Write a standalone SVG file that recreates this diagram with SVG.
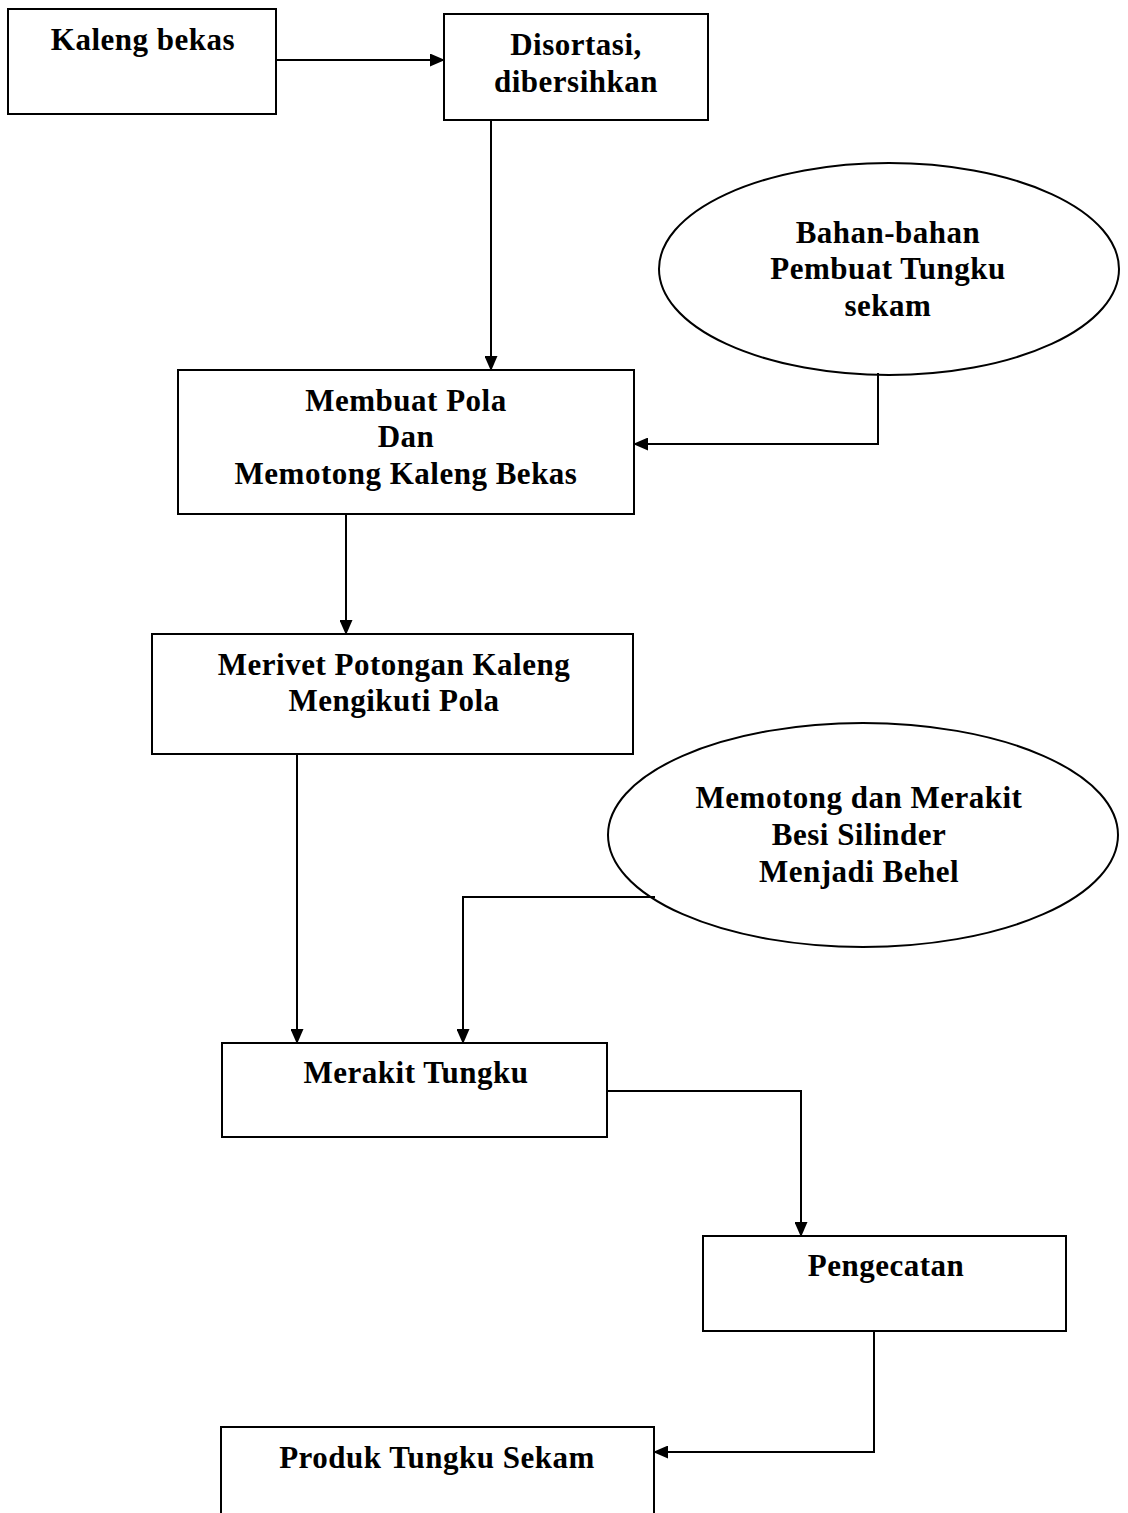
<svg xmlns="http://www.w3.org/2000/svg" width="1128" height="1513" viewBox="0 0 1128 1513">
<defs>
<marker id="ah" markerWidth="15" markerHeight="13" refX="14" refY="6.5" orient="auto" markerUnits="userSpaceOnUse">
<path d="M0,0 L15,6.5 L0,13 z" fill="#000"/>
</marker>
<style>
.box{fill:#fff;stroke:#000;stroke-width:2}
.t{font-family:"Liberation Serif","Times New Roman",serif;font-weight:bold;font-size:31px;letter-spacing:0.5px;text-anchor:middle;fill:#000}
.c{fill:none;stroke:#000;stroke-width:2;marker-end:url(#ah)}
</style>
</defs>
<rect width="1128" height="1513" fill="#fff"/>
<g id="n1"><rect class="box" x="8" y="9" width="268" height="105"/><text class="t" x="143" y="50">Kaleng bekas</text></g>
<g id="n2"><rect class="box" x="444" y="14" width="264" height="106"/><text class="t" x="576" y="55">Disortasi,</text><text class="t" x="576" y="92">dibersihkan</text></g>
<g id="n3"><ellipse class="box" cx="889" cy="269" rx="230" ry="106"/><text class="t" x="888" y="243">Bahan-bahan</text><text class="t" x="888" y="279">Pembuat Tungku</text><text class="t" x="888" y="316">sekam</text></g>
<g id="n4"><rect class="box" x="178" y="370" width="456" height="144"/><text class="t" x="406" y="411">Membuat Pola</text><text class="t" x="406" y="447">Dan</text><text class="t" x="406" y="484">Memotong Kaleng Bekas</text></g>
<g id="n5"><rect class="box" x="152" y="634" width="481" height="120"/><text class="t" x="394" y="675">Merivet Potongan Kaleng</text><text class="t" x="394" y="711">Mengikuti Pola</text></g>
<g id="n6"><ellipse class="box" cx="863" cy="835" rx="255" ry="112"/><text class="t" x="859" y="808">Memotong dan Merakit</text><text class="t" x="859" y="845">Besi Silinder</text><text class="t" x="859" y="882">Menjadi Behel</text></g>
<g id="n7"><rect class="box" x="222" y="1043" width="385" height="94"/><text class="t" x="416" y="1083">Merakit Tungku</text></g>
<g id="n8"><rect class="box" x="703" y="1236" width="363" height="95"/><text class="t" x="886" y="1276">Pengecatan</text></g>
<g id="n9"><rect class="box" x="221" y="1427" width="433" height="100"/><text class="t" x="437" y="1468">Produk Tungku Sekam</text></g>
<g id="connectors">
<path class="c" d="M276,60 H444"/>
<path class="c" d="M491,120 V370"/>
<path class="c" d="M878,373 V444 H634"/>
<path class="c" d="M346,514 V634"/>
<path class="c" d="M297,754 V1043"/>
<path class="c" d="M655,897 H463 V1043"/>
<path class="c" d="M607,1091 H801 V1236"/>
<path class="c" d="M874,1331 V1452 H654"/>
</g>
</svg>
